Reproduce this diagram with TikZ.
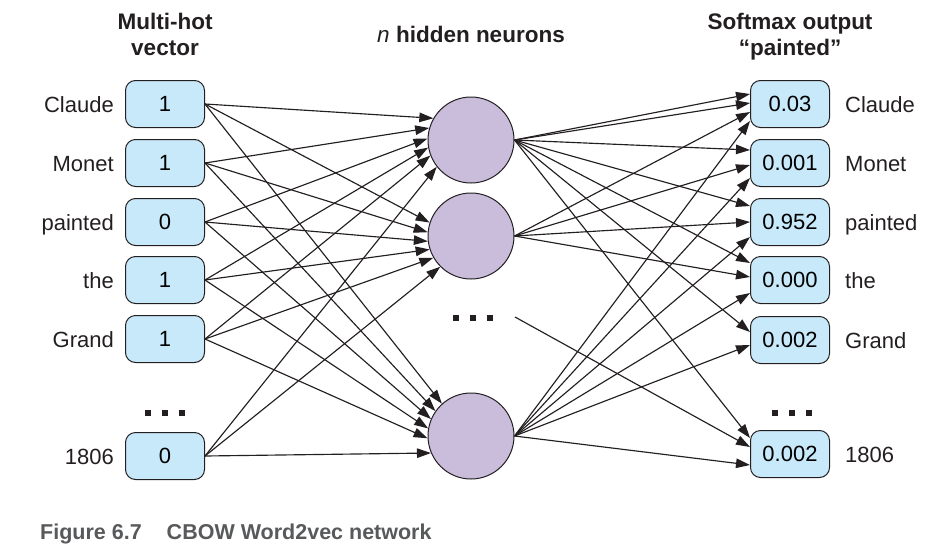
\documentclass[tikz,border=0pt]{standalone}
\usepackage{fontspec}
\setmainfont{Liberation Sans}
\usetikzlibrary{arrows.meta,calc}
\definecolor{boxblue}{HTML}{C8E9FA}
\definecolor{neuronfill}{HTML}{CABCDB}
\definecolor{edgecol}{HTML}{231F20}
\definecolor{capgray}{HTML}{58595B}
\newcommand{\mydotsrow}{\rule{6pt}{6pt}\hspace{11pt}\rule{6pt}{6pt}\hspace{11pt}\rule{6pt}{6pt}}
\begin{document}
\begin{tikzpicture}[x=1pt,y=-1pt,
  box/.style={draw=edgecol, fill=boxblue, rounded corners=10pt, minimum width=79pt, minimum height=47pt, line width=1pt, inner sep=0pt, font=\fontsize{22}{24}\selectfont},
  neuron/.style={circle, draw=edgecol, fill=neuronfill, minimum size=86pt, inner sep=0pt, line width=1pt},
  lbl/.style={font=\fontsize{22}{24}\selectfont, inner sep=0pt, text=edgecol},
  hdr/.style={font=\bfseries\fontsize{22.5}{26}\selectfont, align=center, inner sep=0pt, text=edgecol},
  dotsnode/.style={inner sep=0pt, text=edgecol},
  conn/.style={line width=1.15pt, draw=edgecol, -{Triangle[length=14pt,width=9.5pt]}},
  ]
\useasboundingbox (0,0) rectangle (944,557);

% headers
\node[hdr, anchor=north] (hin) at (165,13) {Multi-hot\\vector};
\node[hdr, anchor=base] (hhid) at (471,42) {{\mdseries\itshape n} hidden neurons};
\node[hdr, anchor=north] (hout) at (790,13) {Softmax output\\“painted”};

% input boxes and labels
\foreach \n/\y/\v/\w in {1/104/1/Claude, 2/163/1/Monet, 3/222/0/painted, 4/280/1/the, 5/339/1/Grand, 6/456/0/1806} {
  \node[box] (i\n) at (165,\y) {\v};
  \node[lbl, anchor=base east] (il\n) at (114,\y+8) {\w};
}
% output boxes and labels
\foreach \n/\y/\v/\w in {1/104/0.03/Claude, 2/163/0.001/Monet, 3/222/0.952/painted, 4/280/0.000/the, 5/340/0.002/Grand, 6/454/0.002/1806} {
  \node[box] (o\n) at (790,\y) {\v};
  \node[lbl, anchor=base west] (ol\n) at (845,\y+8) {\w};
}
% hidden neurons
\node[neuron] (h1) at (471,140) {};
\node[neuron] (h2) at (471,236) {};
\node[neuron] (h3) at (471,436) {};

% ellipses
\node[dotsnode] (idots) at (165,413) {\mydotsrow};
\node[dotsnode] (hdots) at (473,318) {\mydotsrow};
\node[dotsnode] (odots) at (792,413) {\mydotsrow};

% input -> hidden
\foreach \i/\a/\b/\c in {1/150/162/132, 2/164/175/145, 3/178/187/157, 4/190/198/170, 5/201/210/183, 6/218/225/203} {
  \draw[conn] (i\i.east) -- (h1.\a);
  \draw[conn] (i\i.east) -- (h2.\b);
  \draw[conn] (i\i.east) -- (h3.\c);
}

% hidden -> output
\foreach \j/\o in {1/-10, 1/-1, 2/-13, 3/-16, 4/-17, 5/-8, 6/-16}
  \draw[conn] (h1.east) -- ($(o\j.west)+(0,\o)$);
\foreach \j/\o in {1/8, 2/2, 3/0, 4/-3}
  \draw[conn] (h2.east) -- ($(o\j.west)+(0,\o)$);
\foreach \j/\o in {1/17, 2/15, 3/15, 4/13, 5/5, 6/11}
  \draw[conn] (h3.east) -- ($(o\j.west)+(0,\o)$);
\coordinate (dstart) at (515,317);
\draw[conn] (dstart) -- ($(o6.west)+(0,-7)$);

% caption
\node[anchor=base west, inner sep=0pt, text=capgray, font=\bfseries\fontsize{21.5}{24}\selectfont] (cap) at (40,539) {Figure 6.7\hspace{25pt}CBOW Word2vec network};
\end{tikzpicture}
\end{document}
